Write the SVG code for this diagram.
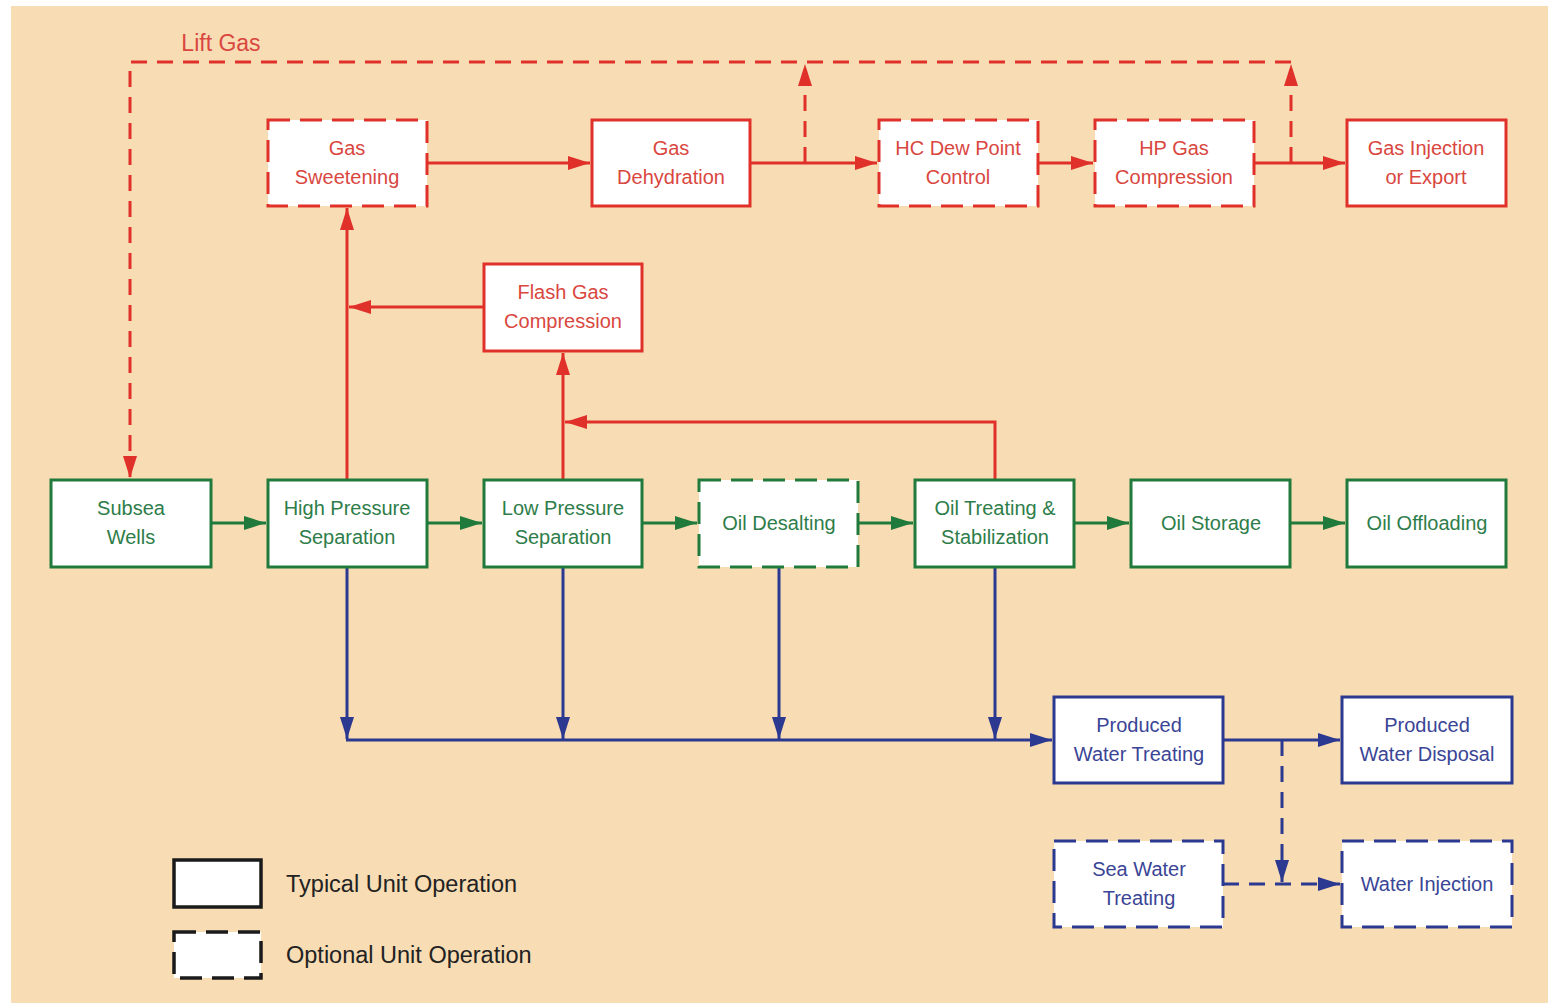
<svg xmlns="http://www.w3.org/2000/svg" width="1548" height="1003" viewBox="0 0 1548 1003">
<style>
.bg{fill:#F8DCB4}
.box{fill:#ffffff;stroke-width:3}
.dash{stroke-dasharray:22 10}
.r{stroke:#E0302A}
.g{stroke:#1F7A3C}
.b{stroke:#2B3990}
.k{stroke:#1a1a1a;stroke-width:3.5}
text{font-family:"Liberation Sans",Arial,sans-serif;font-size:20px;text-anchor:middle}
.tr{fill:#D9473F}
.tg{fill:#2E7D4A}
.tb{fill:#3A4596}
.tk{fill:#222222;text-anchor:start;font-size:23.5px}
.ln{fill:none;stroke-width:3}
.ld{stroke-dasharray:16 10}
</style>
<defs>
<marker id="ar" markerUnits="userSpaceOnUse" markerWidth="24" markerHeight="16" refX="22" refY="8" orient="auto"><path d="M0,1 L22,8 L0,15 z" fill="#E0302A"/></marker>
<marker id="ag" markerUnits="userSpaceOnUse" markerWidth="24" markerHeight="16" refX="22" refY="8" orient="auto"><path d="M0,1 L22,8 L0,15 z" fill="#1F7A3C"/></marker>
<marker id="ab" markerUnits="userSpaceOnUse" markerWidth="24" markerHeight="16" refX="22" refY="8" orient="auto"><path d="M0,1 L22,8 L0,15 z" fill="#2B3990"/></marker>
</defs>
<rect x="11" y="6" width="1537" height="997" class="bg"/>
<text x="221" y="51" class="tr" style="font-size:23px">Lift Gas</text>

<g id="connectors">
<path class="ln r ld" d="M1291,62 H130 V478" marker-end="url(#ar)"/>
<path class="ln r ld" d="M805,163 V64" marker-end="url(#ar)"/>
<path class="ln r ld" d="M1291,163 V64" marker-end="url(#ar)"/>
<path class="ln r" d="M427,163 H590" marker-end="url(#ar)"/>
<path class="ln r" d="M750,163 H877" marker-end="url(#ar)"/>
<path class="ln r" d="M1038,163 H1093" marker-end="url(#ar)"/>
<path class="ln r" d="M1254,163 H1345" marker-end="url(#ar)"/>
<path class="ln r" d="M347,480 V208" marker-end="url(#ar)"/>
<path class="ln r" d="M484,307 H349" marker-end="url(#ar)"/>
<path class="ln r" d="M563,480 V353" marker-end="url(#ar)"/>
<path class="ln r" d="M995,480 V422 H565" marker-end="url(#ar)"/>
<path class="ln g" d="M211,523 H266" marker-end="url(#ag)"/>
<path class="ln g" d="M427,523 H482" marker-end="url(#ag)"/>
<path class="ln g" d="M642,523 H697" marker-end="url(#ag)"/>
<path class="ln g" d="M858,523 H913" marker-end="url(#ag)"/>
<path class="ln g" d="M1074,523 H1129" marker-end="url(#ag)"/>
<path class="ln g" d="M1290,523 H1345" marker-end="url(#ag)"/>
<path class="ln b" d="M347,567 V739" marker-end="url(#ab)"/>
<path class="ln b" d="M563,567 V739" marker-end="url(#ab)"/>
<path class="ln b" d="M779,567 V739" marker-end="url(#ab)"/>
<path class="ln b" d="M995,567 V739" marker-end="url(#ab)"/>
<path class="ln b" d="M346,740 H1052" marker-end="url(#ab)"/>
<path class="ln b" d="M1223,740 H1340" marker-end="url(#ab)"/>
<path class="ln b ld" d="M1282,740 V882" marker-end="url(#ab)"/>
<path class="ln b ld" d="M1223,884 H1340" marker-end="url(#ab)"/>
</g>

<g id="gas-sweetening"><rect x="268" y="120" width="159" height="86" class="box r dash"/><text x="347" y="155" class="tr">Gas</text><text x="347" y="184" class="tr">Sweetening</text></g>
<g id="gas-dehydration"><rect x="592" y="120" width="158" height="86" class="box r"/><text x="671" y="155" class="tr">Gas</text><text x="671" y="184" class="tr">Dehydration</text></g>
<g id="hc-dew-point"><rect x="879" y="120" width="159" height="86" class="box r dash"/><text x="958" y="155" class="tr">HC Dew Point</text><text x="958" y="184" class="tr">Control</text></g>
<g id="hp-gas-compression"><rect x="1095" y="120" width="159" height="86" class="box r dash"/><text x="1174" y="155" class="tr">HP Gas</text><text x="1174" y="184" class="tr">Compression</text></g>
<g id="gas-injection"><rect x="1347" y="120" width="159" height="86" class="box r"/><text x="1426" y="155" class="tr">Gas Injection</text><text x="1426" y="184" class="tr">or Export</text></g>
<g id="flash-gas"><rect x="484" y="264" width="158" height="87" class="box r"/><text x="563" y="299" class="tr">Flash Gas</text><text x="563" y="328" class="tr">Compression</text></g>

<g id="subsea-wells"><rect x="51" y="480" width="160" height="87" class="box g"/><text x="131" y="515" class="tg">Subsea</text><text x="131" y="544" class="tg">Wells</text></g>
<g id="hp-separation"><rect x="268" y="480" width="159" height="87" class="box g"/><text x="347" y="515" class="tg">High Pressure</text><text x="347" y="544" class="tg">Separation</text></g>
<g id="lp-separation"><rect x="484" y="480" width="158" height="87" class="box g"/><text x="563" y="515" class="tg">Low Pressure</text><text x="563" y="544" class="tg">Separation</text></g>
<g id="oil-desalting"><rect x="699" y="480" width="159" height="87" class="box g dash"/><text x="779" y="530" class="tg">Oil Desalting</text></g>
<g id="oil-treating"><rect x="915" y="480" width="159" height="87" class="box g"/><text x="995" y="515" class="tg">Oil Treating &amp;</text><text x="995" y="544" class="tg">Stabilization</text></g>
<g id="oil-storage"><rect x="1131" y="480" width="159" height="87" class="box g"/><text x="1211" y="530" class="tg">Oil Storage</text></g>
<g id="oil-offloading"><rect x="1347" y="480" width="159" height="87" class="box g"/><text x="1427" y="530" class="tg">Oil Offloading</text></g>

<g id="pw-treating"><rect x="1054" y="697" width="169" height="86" class="box b"/><text x="1139" y="732" class="tb">Produced</text><text x="1139" y="761" class="tb">Water Treating</text></g>
<g id="pw-disposal"><rect x="1342" y="697" width="170" height="86" class="box b"/><text x="1427" y="732" class="tb">Produced</text><text x="1427" y="761" class="tb">Water Disposal</text></g>
<g id="sea-water-treating"><rect x="1054" y="841" width="169" height="86" class="box b dash"/><text x="1139" y="876" class="tb">Sea Water</text><text x="1139" y="905" class="tb">Treating</text></g>
<g id="water-injection"><rect x="1342" y="841" width="170" height="86" class="box b dash"/><text x="1427" y="891" class="tb">Water Injection</text></g>

<g id="legend">
<rect x="174" y="860" width="87" height="47" class="box k"/>
<text x="286" y="892" class="tk">Typical Unit Operation</text>
<rect x="174" y="932" width="87" height="46" class="box k dash"/>
<text x="286" y="963" class="tk">Optional Unit Operation</text>
</g>
</svg>
